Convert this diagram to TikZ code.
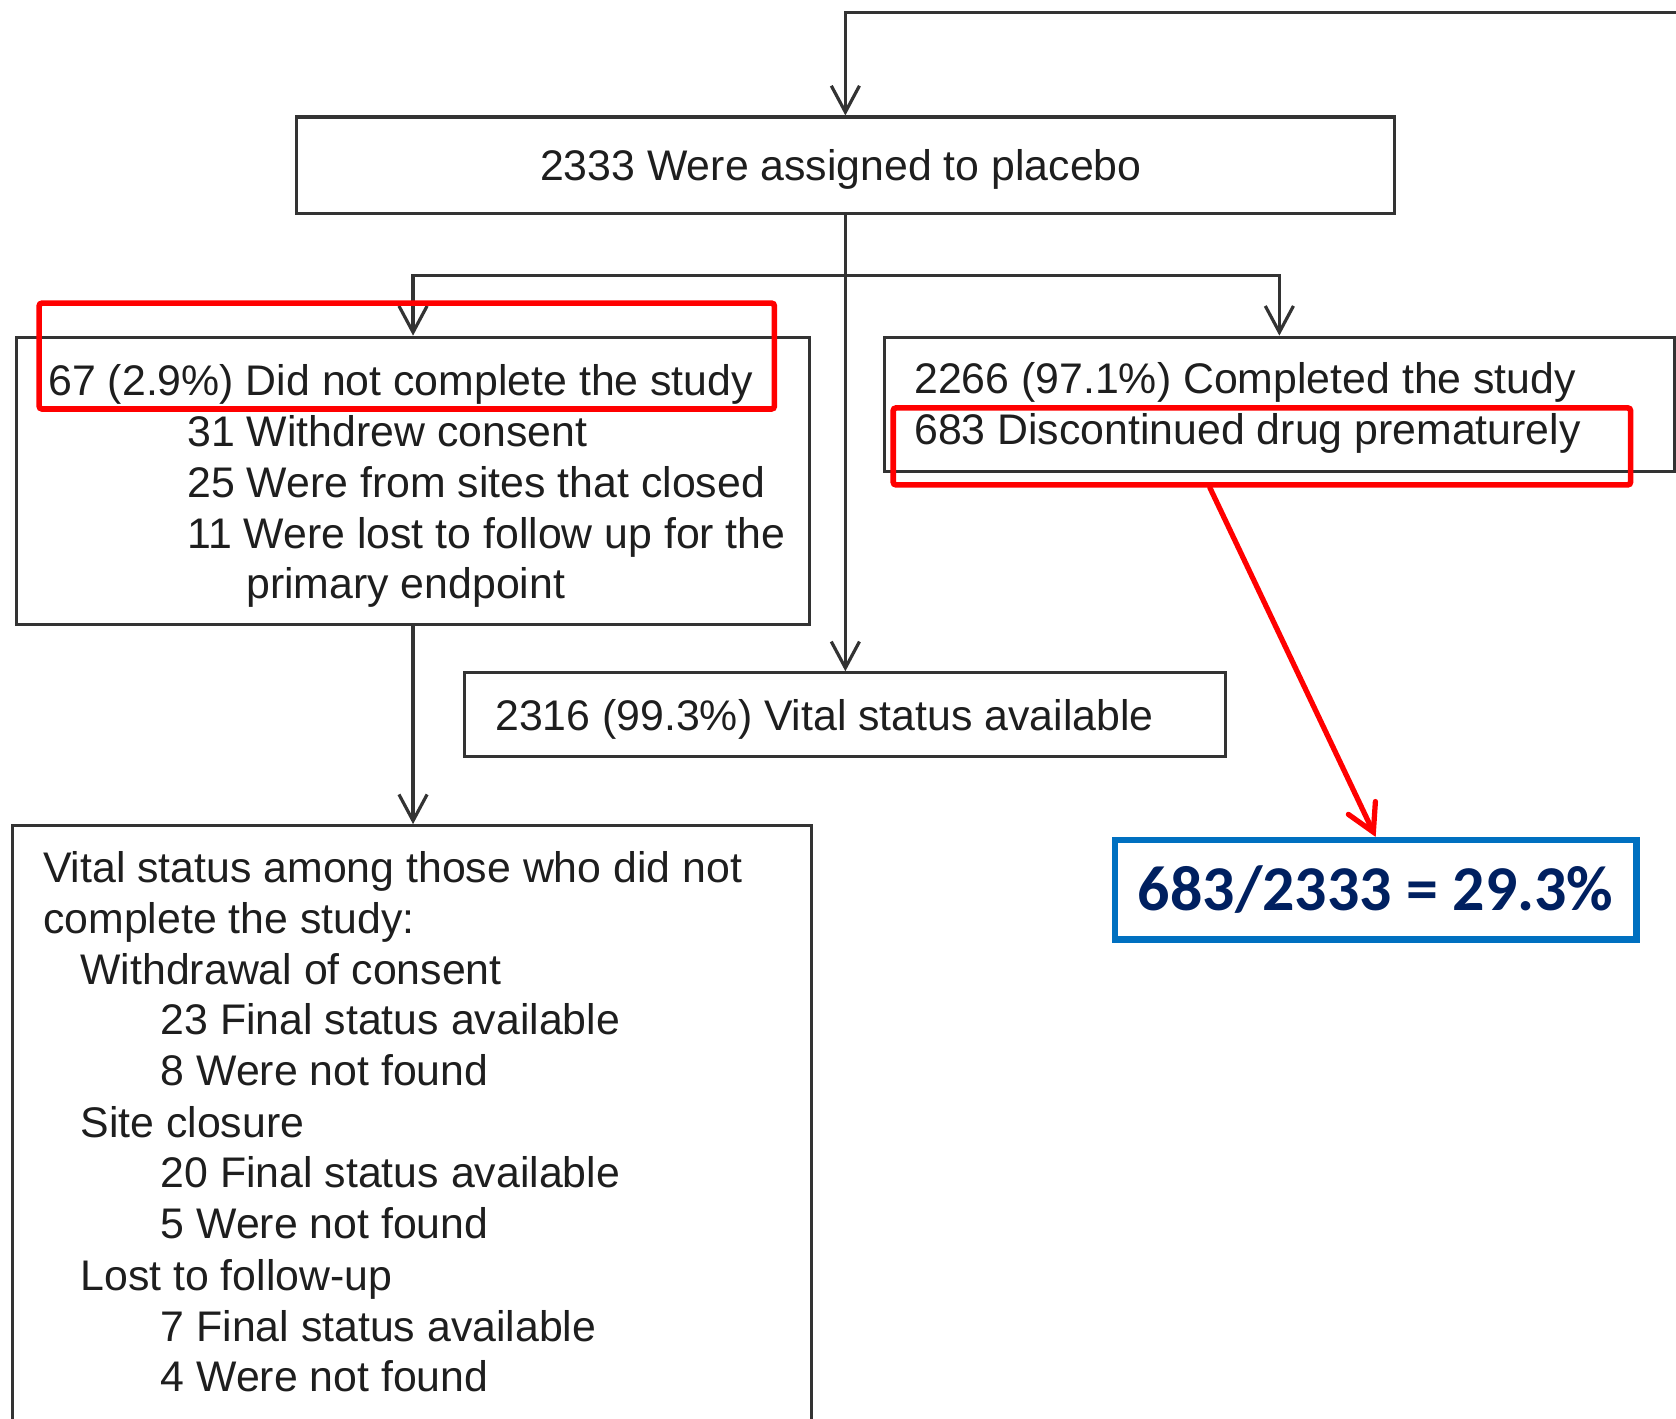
\documentclass[tikz,border=0pt]{standalone}
\usepackage{fontspec}
\setmainfont{Liberation Sans}
\newfontfamily\ratiofont{Carlito}
\usetikzlibrary{arrows.meta,calc}
\definecolor{linegray}{HTML}{333333}
\definecolor{textgray}{HTML}{1E1E1E}
\definecolor{hired}{HTML}{FF0000}
\definecolor{ratioblue}{HTML}{0070C0}
\definecolor{rationavy}{HTML}{002060}
\tikzset{
  box/.style={draw=linegray,line width=1.7pt,anchor=north west,inner sep=0pt},
  txt/.style={anchor=base west,inner sep=0pt,text=textgray,font=\fontsize{22.8}{27}\selectfont},
  flow/.style={draw=linegray,line width=1.7pt},
  tip/.style={-{Straight Barb[length=14pt,width=15pt]}},
  hilite/.style={draw=hired,line width=3pt,rounded corners=1.5pt,anchor=north west,inner sep=0pt},
}

\begin{document}
\begin{tikzpicture}[x=0.02cm,y=-0.02cm]
    \useasboundingbox (0,0) rectangle (1568,1327);
    \clip (0,0) rectangle (1568,1327);

    \node[box,minimum width=20.54cm,minimum height=1.8cm]  (placebo)   at (276,108) {};
    \node[box,minimum width=14.84cm,minimum height=5.38cm] (didnot)    at (14,314)  {};
    \node[box,minimum width=14.78cm,minimum height=2.52cm] (completed) at (826,314) {};
    \node[box,minimum width=14.24cm,minimum height=1.56cm] (vital)     at (433,628) {};
    \node[box,minimum width=14.96cm,minimum height=12cm]   (among)     at (10,771)  {};

    \node[txt] (placebo-t) at (505,169) {2333 Were assigned to placebo};
    \node[txt] (didnot-t1) at (45,370)  {67 (2.9\%) Did not complete the study};
    \node[txt] (didnot-t2) at (175,418) {31 Withdrew consent};
    \node[txt] (didnot-t3) at (175,465) {25 Were from sites that closed};
    \node[txt] (didnot-t4) at (175,513) {11 Were lost to follow up for the};
    \node[txt] (didnot-t5) at (230,560) {primary endpoint};
    \node[txt] (completed-t1) at (855,368) {2266 (97.1\%) Completed the study};
    \node[txt] (completed-t2) at (855,416) {683 Discontinued drug prematurely};
    \node[txt] (vital-t) at (463,683) {2316 (99.3\%) Vital status available};

    \foreach \x/\y/\t [count=\n] in {40/826/Vital status among those who did not,
        40/873/complete the study:, 75/921/Withdrawal of consent,
        150/968/23 Final status available, 150/1016/8 Were not found,
        75/1064/Site closure, 150/1111/20 Final status available,
        150/1159/5 Were not found, 75/1207/Lost to follow-up,
        150/1255/7 Final status available, 150/1302/4 Were not found}
      \node[txt] (among-t\n) at (\x,\y) {\t};

    \coordinate (topright) at (1600,12);
    \coordinate (split) at ([yshift=-1.14cm]placebo.south);
    \draw[flow,tip] (topright) -| (placebo.north);
    \draw[flow] (placebo.south) -- (split);
    \draw[flow,tip] (split) -| (didnot.north);
    \draw[flow,tip] (split) -| (completed.north);
    \draw[flow,tip] (split) -- (split |- vital.north);
    \draw[flow,tip] (didnot.south) -- (didnot.south |- among.north);

    \node[hilite,minimum width=13.76cm,minimum height=1.98cm] (hl1) at (34,281) {};
    \node[hilite,minimum width=13.8cm,minimum height=1.44cm]  (hl2) at (833,379) {};

    \node[draw=ratioblue,line width=3.4pt,minimum width=9.76cm,minimum height=1.86cm,inner sep=0pt,
          text=rationavy,font=\ratiofont\bfseries\fontsize{34}{40}\selectfont] (ratio) at (1287,832.5) {683/2333 = 29.3\%};

    \draw[hired,line width=2.8pt,line cap=round,-{Straight Barb[length=0.5cm,width=0.56cm,line cap=round]}]
      ($(hl2.south west)!0.43!(hl2.south east)$) -- (ratio.north);
\end{tikzpicture}
\end{document}
